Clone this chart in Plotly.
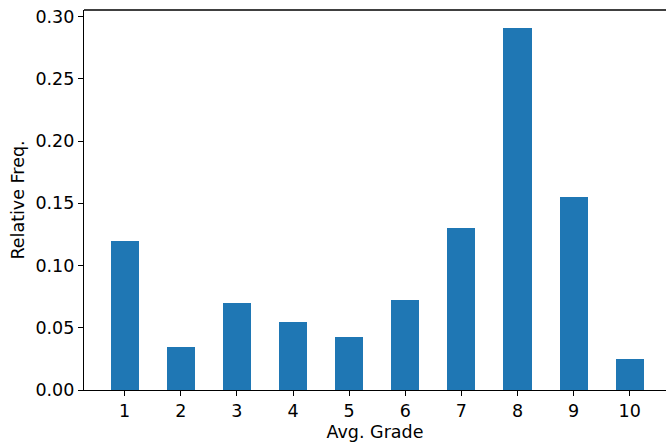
import plotly.graph_objects as go

grades = [1, 2, 3, 4, 5, 6, 7, 8, 9, 10]
rel_freq = [0.120, 0.0346, 0.0700, 0.0546, 0.0426, 0.0723, 0.1302, 0.2909, 0.1551, 0.0249]
y_ticks = [0.00, 0.05, 0.10, 0.15, 0.20, 0.25, 0.30]

font = dict(family="DejaVu Sans", size=17.5, color="black")

fig = go.Figure(go.Bar(x=grades, y=rel_freq, width=0.5, marker=dict(color="#1f77b4", line=dict(width=0))))

fig.update_layout(
    width=666, height=442,
    margin=dict(l=84, r=0, t=10, b=52, autoexpand=False),
    plot_bgcolor="white", paper_bgcolor="white",
    font=font,
    showlegend=False,
    bargap=0,
)
fig.update_xaxes(
    range=[0.275, 10.647], tickvals=grades, ticktext=[str(g) for g in grades],
    showline=True, linecolor="black", linewidth=1.3,
    ticks="outside", ticklen=5, tickwidth=1.3, tickcolor="black",
    showgrid=False, zeroline=False, automargin=False,
    title=dict(text="Avg. Grade", font=font, standoff=7),
)
fig.update_yaxes(
    range=[0, 0.3054], tickvals=y_ticks, ticktext=[f"{v:.2f}" for v in y_ticks],
    showline=True, linecolor="black", linewidth=1.3,
    ticks="outside", ticklen=5, tickwidth=1.3, tickcolor="black",
    showgrid=False, zeroline=False, automargin=False,
    title=dict(text="Relative Freq.", font=font, standoff=6),
)
fig.add_shape(type="line", xref="paper", yref="paper", x0=0, x1=1, y0=1, y1=1,
              line=dict(color="black", width=1.3))

fig.write_html("out.html", config={"displayModeBar": False},
               post_script="document.body.style.margin='0px';")
